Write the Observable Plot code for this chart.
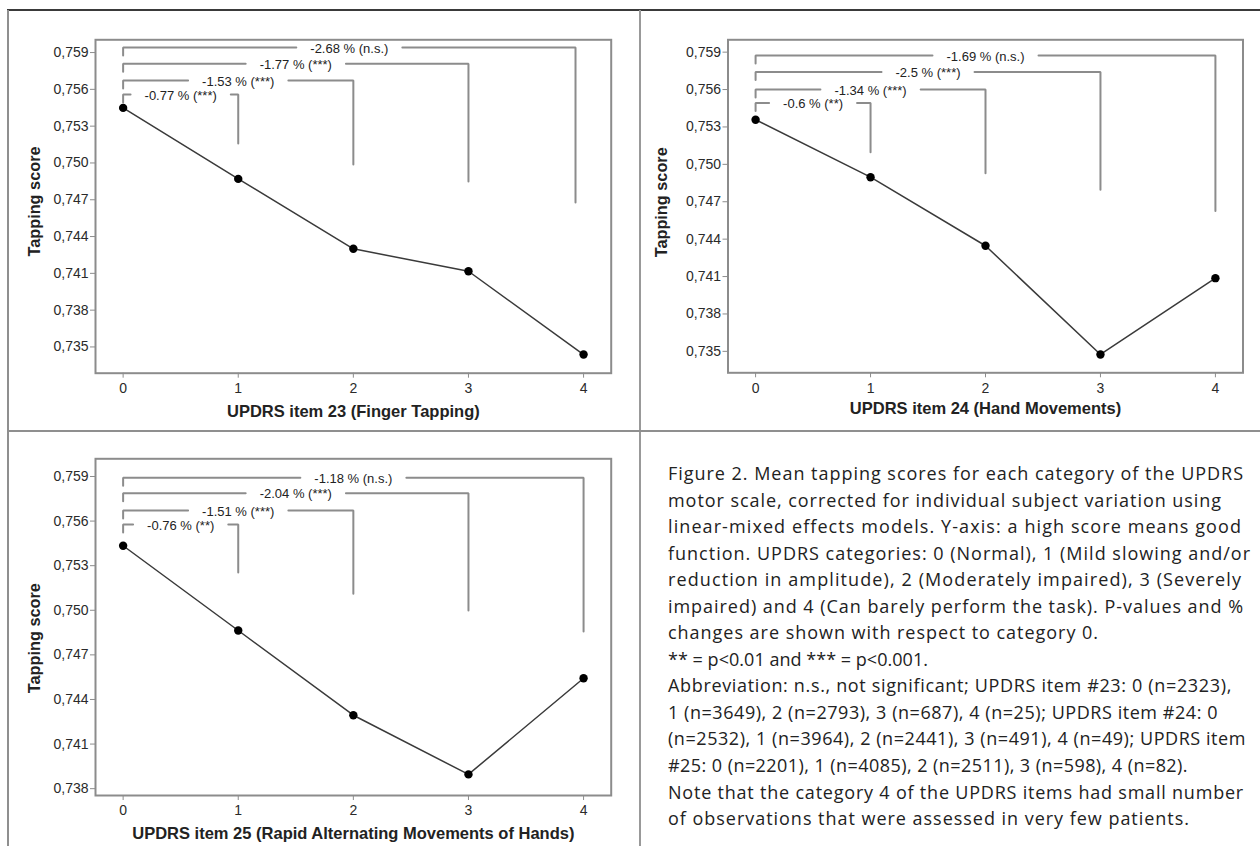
<!DOCTYPE html>
<html><head><meta charset="utf-8">
<script src="https://cdn.jsdelivr.net/npm/d3@7"></script>
<script src="https://cdn.jsdelivr.net/npm/@observablehq/plot@0.6"></script>
<style>
html,body{margin:0;padding:0;background:#fff;}
#page{position:relative;width:1260px;height:846px;overflow:hidden;background:#fff;}
.panel{position:absolute;}
.rule{position:absolute;z-index:5;}
#caption{position:absolute;left:668px;top:460px;font-family:"Open Sans",sans-serif;color:#222;white-space:nowrap;}
</style></head><body><div id="page"></div>
<script>
// ---- data ----
const categories = [0, 1, 2, 3, 4];
const item23 = [0.75449, 0.74870, 0.74300, 0.74117, 0.73438];
const item24 = [0.75358, 0.74897, 0.74347, 0.73475, 0.74087];
const item25 = [0.75434, 0.74864, 0.74294, 0.73896, 0.74543];

const pct23 = ["-0.77 % (***)", "-1.53 % (***)", "-1.77 % (***)", "-2.68 % (n.s.)"];
const pct24 = ["-0.6 % (**)", "-1.34 % (***)", "-2.5 % (***)", "-1.69 % (n.s.)"];
const pct25 = ["-0.76 % (**)", "-1.51 % (***)", "-2.04 % (***)", "-1.18 % (n.s.)"];

// bracket annotation heights (read in data units) and right ends (category)
const level23 = [0.75558, 0.75672, 0.75808, 0.75941];
const bottom23 = [0.75158, 0.74987, 0.74848, 0.74677];
const end23 = [1, 2, 3, 3.93];
const level24 = [0.75493, 0.75601, 0.75740, 0.75874];
const bottom24 = [0.75098, 0.74929, 0.74796, 0.74625];
const end24 = [1, 2, 3, 4];
const level25 = [0.75577, 0.75671, 0.75788, 0.75891];
const bottom25 = [0.75254, 0.75111, 0.74999, 0.74857];
const end25 = [1, 2, 3, 4];

const yTicksAB = [0.735, 0.738, 0.741, 0.744, 0.747, 0.750, 0.753, 0.756, 0.759];
const yTicksC = [0.738, 0.741, 0.744, 0.747, 0.750, 0.753, 0.756, 0.759];

const xTitles = ["UPDRS item 23 (Finger Tapping)", "UPDRS item 24 (Hand Movements)", "UPDRS item 25 (Rapid Alternating Movements of Hands)"];
const yTitle = "Tapping score";

const captionLines = [
  "Figure 2. Mean tapping scores for each category of the UPDRS",
  "motor scale, corrected for individual subject variation using",
  "linear-mixed effects models. Y-axis: a high score means good",
  "function. UPDRS categories: 0 (Normal), 1 (Mild slowing and/or",
  "reduction in amplitude), 2 (Moderately impaired), 3 (Severely",
  "impaired) and 4 (Can barely perform the task). P-values and %",
  "changes are shown with respect to category 0.",
  "** = p<0.01 and *** = p<0.001.",
  "Abbreviation: n.s., not significant; UPDRS item #23: 0 (n=2323),",
  "1 (n=3649), 2 (n=2793), 3 (n=687), 4 (n=25); UPDRS item #24: 0",
  "(n=2532), 1 (n=3964), 2 (n=2441), 3 (n=491), 4 (n=49); UPDRS item",
  "#25: 0 (n=2201), 1 (n=4085), 2 (n=2511), 3 (n=598), 4 (n=82).",
  "Note that the category 4 of the UPDRS items had small number",
  "of observations that were assessed in very few patients."
];
// layout: rendered width of each caption line in the reference (px)
const captionWidths = [576, 554, 574, 583, 574, 576, 431, 260, 564, 550, 578, 520, 576, 522];

// ---- helpers ----
const ctx = document.createElement("canvas").getContext("2d");
function measure(text, font) { ctx.font = font; return ctx.measureText(text).width; }
const FONT = "'Liberation Sans', Arial, sans-serif";
const GRAY = "#8c8c8c";

function panel(o) {
  const [mt, mr, mb, ml] = o.margin;
  const xDomain = [-0.24, 4.24];
  const pxX = (o.width - ml - mr) / (xDomain[1] - xDomain[0]);
  const pxY = (o.height - mt - mb) / (o.yDomain[1] - o.yDomain[0]);
  const drop = 8 / pxY;
  const series = categories.map((c, i) => ({cat: c, score: o.values[i]}));
  const segs = [], texts = [];
  o.labels.forEach((lab, i) => {
    const x0 = categories[0];
    const mid = (x0 + o.ends[i]) / 2;
    const half = (measure(lab, "13px " + FONT) / 2 + 14) / pxX;
    const L = o.levels[i];
    segs.push({x: x0, y: L - drop, g: i + "a"}, {x: x0, y: L, g: i + "a"}, {x: mid - half, y: L, g: i + "a"});
    segs.push({x: mid + half, y: L, g: i + "b"}, {x: o.ends[i], y: L, g: i + "b"}, {x: o.ends[i], y: o.bottoms[i], g: i + "b"});
    texts.push({x: mid, y: L, t: lab});
  });
  const svg = Plot.plot({
    width: o.width, height: o.height,
    marginTop: mt, marginRight: mr, marginBottom: mb, marginLeft: ml,
    style: {fontFamily: FONT, fontSize: "14px", color: "#333", background: "transparent", overflow: "visible"},
    x: {domain: xDomain},
    y: {domain: o.yDomain},
    marks: [
      Plot.frame({stroke: GRAY, strokeWidth: 2}),
      Plot.line(segs, {x: "x", y: "y", z: "g", stroke: GRAY, strokeWidth: 2, strokeLinejoin: "miter", curve: "linear"}),
      Plot.text(texts, {x: "x", y: "y", text: "t", fontSize: 13, fill: "#222", dy: 1}),
      Plot.line(series, {x: "cat", y: "score", stroke: "#3a3a3a", strokeWidth: 1.5}),
      Plot.dot(series, {x: "cat", y: "score", r: 4.2, fill: "#000"}),
      Plot.axisY({ticks: o.yTicks, tickFormat: d => d3.format(".3f")(d).replace(".", ","), tickSize: 5, tickPadding: 2, label: null, stroke: GRAY, fill: "#2a2a2a", fontSize: 14}),
      Plot.axisX({ticks: categories, tickFormat: d => String(d), tickSize: 5, tickPadding: 5, label: null, stroke: GRAY, fill: "#2a2a2a", fontSize: 14}),
      Plot.text([o.xTitle], {frameAnchor: "bottom", textAnchor: "middle", lineAnchor: "middle", dy: o.xTitleDy, fontWeight: "bold", fontSize: 16.5, fill: "#222"}),
      Plot.text([yTitle], {frameAnchor: "left", textAnchor: "middle", lineAnchor: "middle", dx: o.yTitleDx, dy: o.yTitleDy, rotate: -90, fontWeight: "bold", fontSize: 16.3, fill: "#222"})
    ]
  });
  svg.classList.add("panel");
  svg.style.left = o.left + "px";
  svg.style.top = o.top + "px";
  return svg;
}

const page = document.getElementById("page");
page.appendChild(panel({
  values: item23, labels: pct23, levels: level23, bottoms: bottom23, ends: end23,
  yDomain: [0.73286, 0.76004], yTicks: yTicksAB, xTitle: xTitles[0],
  width: 640, height: 430, margin: [39.3, 29.3, 57.3, 95], left: 0, top: 0,
  xTitleDy: 39, yTitleDx: -60.3, yTitleDy: -5
}));
page.appendChild(panel({
  values: item24, labels: pct24, levels: level24, bottoms: bottom24, ends: end24,
  yDomain: [0.73328, 0.75999], yTicks: yTicksAB, xTitle: xTitles[1],
  width: 620, height: 430, margin: [39.3, 17.5, 57.7, 87.5], left: 640, top: 0,
  xTitleDy: 36, yTitleDx: -65.8, yTitleDy: -4
}));
page.appendChild(panel({
  values: item25, labels: pct25, levels: level25, bottoms: bottom25, ends: end25,
  yDomain: [0.73754, 0.76019], yTicks: yTicksC, xTitle: xTitles[2],
  width: 640, height: 416, margin: [28.3, 29.3, 51, 95], left: 0, top: 430,
  xTitleDy: 38.3, yTitleDx: -60.3, yTitleDy: 11
}));

// figure borders
function rule(l, t, w, h, c) {
  const d = document.createElement("div");
  d.className = "rule";
  Object.assign(d.style, {left: l + "px", top: t + "px", width: w + "px", height: h + "px", background: c});
  page.appendChild(d);
}
rule(7, 9, 1253, 2, "#3a3a3a");
rule(7, 10, 2, 836, "#8f8f8f");
rule(639, 10, 2, 836, "#999");
rule(7, 429.5, 1253, 2, "#8f8f8f");

// caption
const cap = document.createElement("div");
cap.id = "caption";
let sumW = 0, sumT = 0;
captionLines.forEach((l, i) => { sumW += measure(l, "100px 'Open Sans'"); sumT += captionWidths[i]; });
const fs = Math.min(18, 100 * sumT / sumW);
cap.style.fontSize = fs.toFixed(2) + "px";
captionLines.forEach((line, i) => {
  const d = document.createElement("div");
  d.textContent = line;
  const w = measure(line, fs.toFixed(2) + "px 'Open Sans'");
  let ls = (captionWidths[i] - w) / line.length;
  ls = Math.max(-1.2, Math.min(1.2, ls));
  d.style.letterSpacing = ls.toFixed(3) + "px";
  d.style.height = "26.55px";
  d.style.lineHeight = "26.55px";
  cap.appendChild(d);
});
page.appendChild(cap);
</script>
</body></html>
